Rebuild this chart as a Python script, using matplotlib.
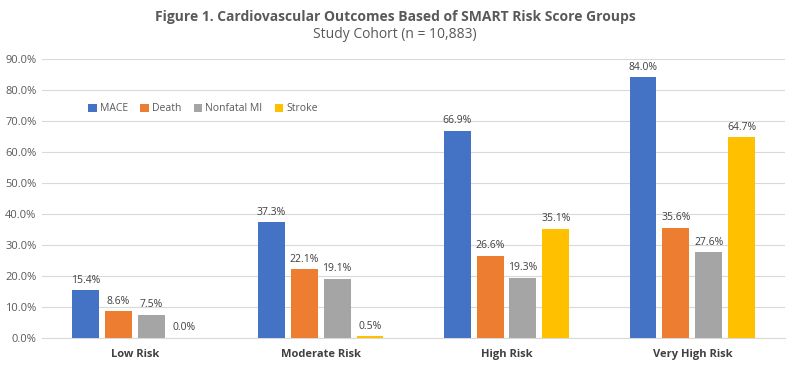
import numpy as np
import matplotlib.pyplot as plt
import matplotlib.ticker as ticker

plt.rcParams['font.family'] = ['Open Sans', 'DejaVu Sans']

groups = ['Low Risk', 'Moderate Risk', 'High Risk', 'Very High Risk']
series = ['MACE', 'Death', 'Nonfatal MI', 'Stroke']
mace = [15.4, 37.3, 66.9, 84.0]
death = [8.6, 22.1, 26.6, 35.6]
nonfatal_mi = [7.5, 19.1, 19.3, 27.6]
stroke = [0.0, 0.5, 35.1, 64.7]
colors = ['#4472C4', '#ED7D31', '#A5A5A5', '#FFC000']

fig = plt.figure(figsize=(7.9, 3.68), dpi=100)
ax = fig.add_axes([0.053, 0.0815, 0.941, 0.7585])

x = np.arange(len(groups))
width = 0.145
step = 0.177
for i, (name, vals) in enumerate(zip(series, [mace, death, nonfatal_mi, stroke])):
    pos = x + (i - 1.5) * step
    ax.bar(pos, vals, width, color=colors[i], label=name, zorder=3)
    for p, v in zip(pos, vals):
        ax.text(p, v + 1.5, f'{v:.1f}%', ha='center', va='bottom',
                fontsize=7.5, color='#404040')

ax.set_xlim(-0.5, 3.5)
ax.set_ylim(0, 90)
ax.yaxis.set_major_locator(ticker.MultipleLocator(10))
ax.yaxis.set_major_formatter(ticker.FuncFormatter(lambda v, p: f'{v:.1f}%'))
ax.set_xticks(x)
ax.set_xticklabels(groups, fontsize=8, fontweight='bold', color='#404040')
ax.tick_params(axis='y', labelsize=8, labelcolor='#595959', length=0, pad=4)
ax.tick_params(axis='x', length=0, pad=8)
ax.grid(axis='y', color='#D9D9D9', linewidth=0.8, zorder=0)
for s in ['top', 'right', 'left']:
    ax.spines[s].set_visible(False)
ax.spines['bottom'].set_color('#D9D9D9')

ax.legend(loc='upper left', bbox_to_anchor=(0.05, 0.875), ncol=4, frameon=False,
          fontsize=7.5, handlelength=0.8, handleheight=0.8, handletextpad=0.3,
          columnspacing=1.2, labelcolor='#595959')

fig.text(0.5, 0.955, 'Figure 1. Cardiovascular Outcomes Based of SMART Risk Score Groups',
         ha='center', va='center', fontsize=10, fontweight='bold', color='#595959')
fig.text(0.5, 0.905, 'Study Cohort (n = 10,883)', ha='center', va='center',
         fontsize=10, color='#595959')

fig.savefig('out.png', dpi=100)
